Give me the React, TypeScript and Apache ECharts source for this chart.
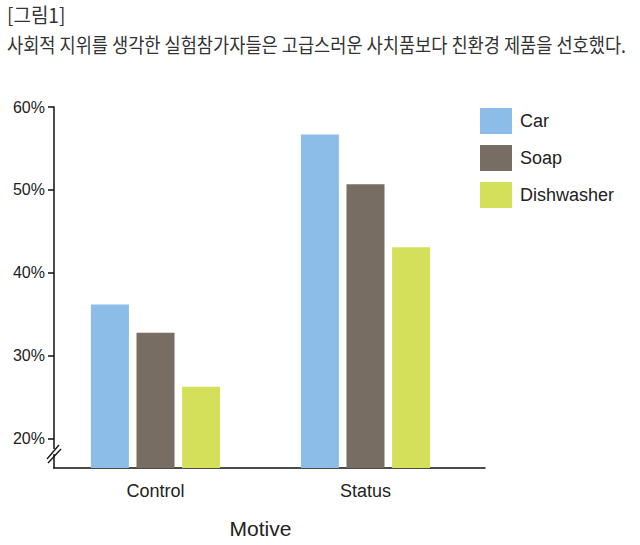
import React, { useEffect, useRef } from "react";
import * as echarts from "echarts";

const categories = ["Control", "Status"];
const carValues = [36.2, 56.7];
const soapValues = [32.8, 50.7];
const dishwasherValues = [26.3, 43.1];
const yTicks = [20, 30, 40, 50, 60];
const titleLine1 = "[그림1]";
const titleLine2 = "사회적 지위를 생각한 실험참가자들은 고급스러운 사치품보다 친환경 제품을 선호했다.";

const FONT = "'Liberation Sans', Arial, sans-serif";
const KFONT = "'Noto Sans CJK KR', 'Noto Sans', sans-serif";

export default function App() {
  const ref = useRef<HTMLDivElement>(null);
  useEffect(() => {
    document.body.style.margin = "0";
    const chart = echarts.init(ref.current!, null, { renderer: "svg" });
    const yMin = 16.5;
    const yMax = 60;
    const barCommon = {
      type: "bar" as const,
      xAxisIndex: 0,
      yAxisIndex: 0,
      barWidth: 38,
      barGap: "20%",
    };
    chart.setOption({
      animation: false,
      backgroundColor: "#ffffff",
      grid: [
        { left: 50.5, right: 169.5, top: 107, bottom: 77 },
        { left: 54, right: 155, top: 107, bottom: 77 },
      ],
      legend: {
        orient: "vertical",
        left: 480,
        top: 108,
        padding: 0,
        itemWidth: 32,
        itemHeight: 26,
        itemGap: 11,
        icon: "rect",
        textStyle: { fontFamily: FONT, fontSize: 18, color: "#222", padding: [0, 0, 0, 3] },
        data: ["Car", "Soap", "Dishwasher"],
      },
      xAxis: [
        {
          type: "category",
          gridIndex: 0,
          data: categories,
          axisLine: { show: false },
          axisTick: { show: false },
          axisLabel: { fontFamily: FONT, fontSize: 18, color: "#222", margin: 14 },
          name: "Motive",
          nameLocation: "middle",
          nameGap: 50,
          nameTextStyle: { fontFamily: FONT, fontSize: 21, color: "#222" },
        },
        {
          type: "category",
          gridIndex: 1,
          data: categories,
          axisLine: { show: true, lineStyle: { color: "#111", width: 1.5 } },
          axisTick: { show: false },
          axisLabel: { show: false },
        },
      ],
      yAxis: [
        {
          type: "value",
          gridIndex: 0,
          min: yMin,
          max: yMax,
          show: false,
          splitLine: { show: false },
        },
        {
          type: "value",
          gridIndex: 1,
          min: yMin,
          max: yMax,
          axisLine: { show: true, lineStyle: { color: "#111", width: 1.5 } },
          axisTick: {
            show: true,
            length: 6,
            customValues: yTicks,
            lineStyle: { color: "#111", width: 1.5 },
          },
          axisLabel: {
            customValues: yTicks,
            formatter: "{value}%",
            fontFamily: FONT,
            fontSize: 16,
            color: "#222",
            margin: 9,
          },
          splitLine: { show: false },
        },
      ],
      series: [
        { ...barCommon, name: "Car", data: carValues, itemStyle: { color: "#8bbde8" } },
        { ...barCommon, name: "Soap", data: soapValues, itemStyle: { color: "#786d62" } },
        { ...barCommon, name: "Dishwasher", data: dishwasherValues, itemStyle: { color: "#d4e05a" } },
      ],
      graphic: [
        {
          type: "text",
          x: 7,
          y: 4,
          scaleX: 0.95,
          style: { text: titleLine1, font: `20px ${KFONT}`, fill: "#333" },
        },
        {
          type: "text",
          x: 7,
          y: 34,
          scaleX: 0.88,
          style: { text: titleLine2, font: `20px ${KFONT}`, fill: "#333" },
        },
        {
          type: "rect",
          shape: { x: 50, y: 449, width: 8, height: 5 },
          style: { fill: "#fff" },
          z: 100,
        },
        {
          type: "line",
          shape: { x1: 47, y1: 459, x2: 59, y2: 445 },
          style: { stroke: "#111", lineWidth: 1.3 },
          z: 101,
        },
        {
          type: "line",
          shape: { x1: 48, y1: 463, x2: 61, y2: 449 },
          style: { stroke: "#111", lineWidth: 1.3 },
          z: 101,
        },
      ],
    });
    return () => chart.dispose();
  }, []);
  return <div ref={ref} style={{ width: 640, height: 545 }} />;
}
